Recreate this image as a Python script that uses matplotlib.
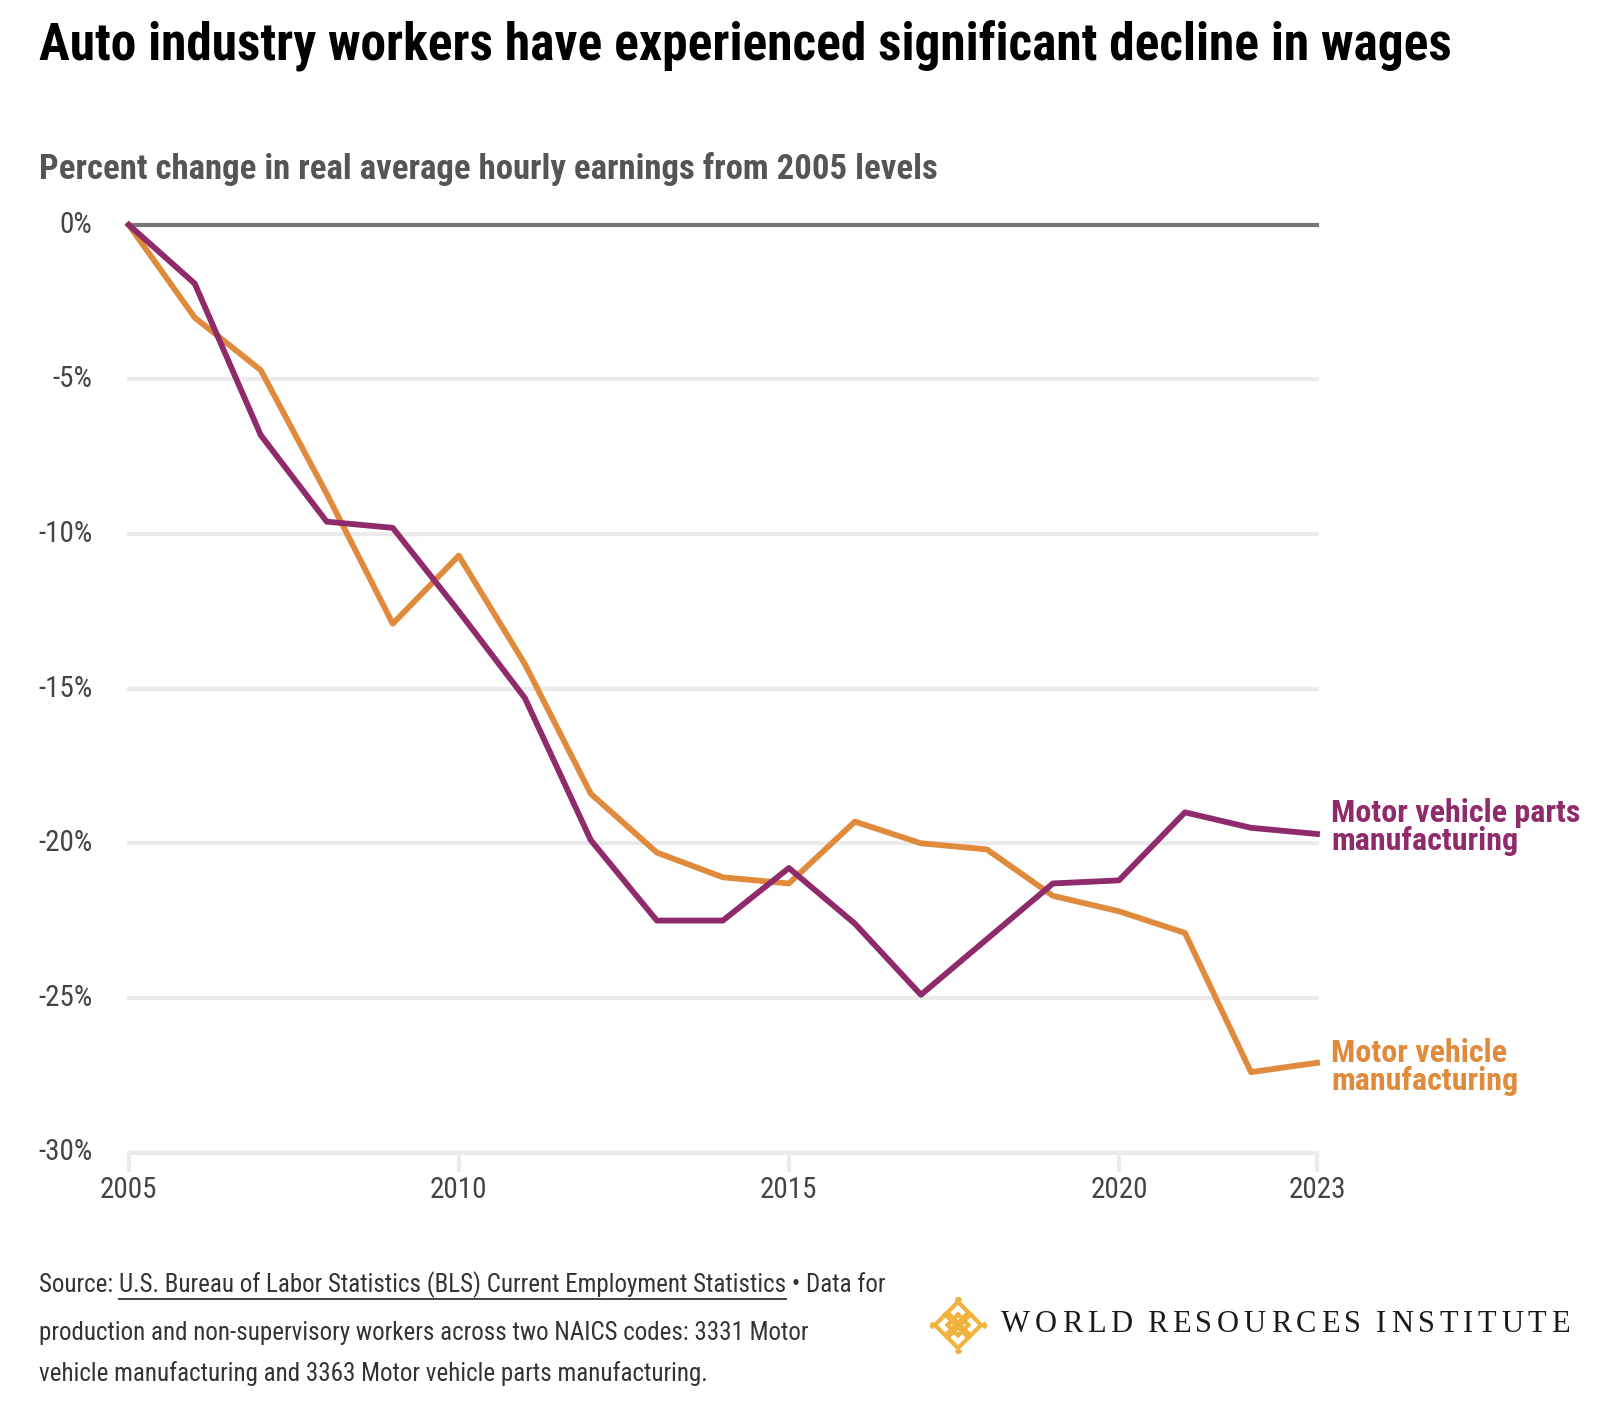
import matplotlib
matplotlib.use("Agg")
import matplotlib.pyplot as plt
from matplotlib import font_manager as fm
from matplotlib.lines import Line2D

# data
years = [2005, 2006, 2007, 2008, 2009, 2010, 2011, 2012, 2013, 2014,
         2015, 2016, 2017, 2018, 2019, 2020, 2021, 2022, 2023]
parts_mfg = [0.0, -1.9, -6.8, -9.6, -9.8, -12.5, -15.3, -19.9, -22.5, -22.5,
             -20.8, -22.6, -24.9, -23.1, -21.3, -21.2, -19.0, -19.5, -19.7]
vehicle_mfg = [0.0, -3.0, -4.7, -8.7, -12.9, -10.7, -14.2, -18.4, -20.3, -21.1,
               -21.3, -19.3, -20.0, -20.2, -21.7, -22.2, -22.9, -27.4, -27.1]
xticks = [2005, 2010, 2015, 2020, 2023]
yticks = [0, -5, -10, -15, -20, -25, -30]

PURPLE = "#8f2a6b"
ORANGE = "#e08a3c"
GRID = "#ebebeb"
W, H = 1602, 1420

names = {f.name for f in fm.fontManager.ttflist}
cond = "DejaVu Sans"
for cand in ["Roboto Condensed", "Liberation Sans Narrow", "Open Sans Condensed"]:
    if cand in names:
        cond = cand
        break
serif = "Liberation Serif" if "Liberation Serif" in names else "DejaVu Serif"
plt.rcParams["font.family"] = [cond, "DejaVu Sans"]
plt.rcParams["font.stretch"] = "condensed"


def px(x, y):
    return x / W, 1 - y / H


fig = plt.figure(figsize=(W / 100, H / 100), dpi=100)
ax = fig.add_axes([128.7 / W, 1 - 1152.5 / H, (1317 - 128.7) / W, (1152.5 - 224.8) / H])

for y in yticks[1:]:
    ax.axhline(y, color=GRID, lw=3, zorder=0, clip_on=False)
ax.axhline(0, color="#777777", lw=3, zorder=1, clip_on=False)
ax.plot(years, vehicle_mfg, color=ORANGE, lw=4.2, zorder=3, clip_on=False)
ax.plot(years, parts_mfg, color=PURPLE, lw=4.2, zorder=4, clip_on=False)

ax.set_xlim(2005, 2023)
ax.set_ylim(-30, 0)
for s in ax.spines.values():
    s.set_visible(False)
ax.set_xticks(xticks)
ax.set_xticklabels([str(x) for x in xticks])
ax.set_yticks(yticks)
ax.set_yticklabels([f"{y}%" for y in yticks])
ax.tick_params(axis="x", length=14, width=3, color=GRID, labelsize=21,
               labelcolor="#444444", pad=3)
ax.tick_params(axis="y", length=0, labelsize=21, labelcolor="#444444", pad=26)
for lab in ax.get_yticklabels():
    lab.set_verticalalignment("center")

# end labels
ax.annotate("Motor vehicle parts\nmanufacturing", xy=(years[-1], parts_mfg[-1]),
            xytext=(10, 5), textcoords="offset points", color=PURPLE,
            fontsize=23, fontweight="bold", va="center", ha="left", linespacing=0.92)
ax.annotate("Motor vehicle\nmanufacturing", xy=(years[-1], vehicle_mfg[-1]),
            xytext=(10, -3), textcoords="offset points", color=ORANGE,
            fontsize=23, fontweight="bold", va="center", ha="left", linespacing=0.92)

# titles
fig.text(*px(39, 46), "Auto industry workers have experienced significant decline in wages",
         fontsize=37, fontweight="bold", color="black", va="center", ha="left")
fig.text(*px(39, 169), "Percent change in real average hourly earnings from 2005 levels",
         fontsize=25, fontweight="bold", color="#555555", va="center", ha="left")

# footer with underlined source link
fig.canvas.draw()
r = fig.canvas.get_renderer()
fs = 18
fc = "#333333"
x0, y0 = px(39, 1285)
t1 = fig.text(x0, y0, "Source: ", fontsize=fs, color=fc, va="center")
e1 = t1.get_window_extent(r)
t2 = fig.text(e1.x1 / W, y0, "U.S. Bureau of Labor Statistics (BLS) Current Employment Statistics",
              fontsize=fs, color=fc, va="center")
e2 = t2.get_window_extent(r)
fig.add_artist(Line2D([e2.x0 / W, e2.x1 / W], [(e2.y0 - 1) / H] * 2, color=fc, lw=1.3,
                      transform=fig.transFigure))
fig.text(e2.x1 / W, y0, " \u2022 Data for", fontsize=fs, color=fc, va="center")
fig.text(*px(39, 1333), "production and non-supervisory workers across two NAICS codes: 3331 Motor",
         fontsize=fs, color=fc, va="center")
fig.text(*px(39, 1374), "vehicle manufacturing and 3363 Motor vehicle parts manufacturing.",
         fontsize=fs, color=fc, va="center")

# WRI logo mark: woven diamond
lx, ly = 958, 1325
lax = fig.add_axes([(lx - 28) / W, 1 - (ly + 28) / H, 56 / W, 56 / H])
lax.set_xlim(-4, 4)
lax.set_ylim(-4, 4)
lax.axis("off")
gold = "#f0b43c"
for cx, cy in [(0, 1.8), (0, -1.8), (1.8, 0), (-1.8, 0), (0, 0)]:
    d = 1.5
    lax.plot([cx, cx + d, cx, cx - d, cx], [cy + d, cy, cy - d, cy, cy + d],
             color=gold, lw=3.0, solid_joinstyle="miter")
for cx, cy in [(0, 3.7), (0, -3.7), (3.7, 0), (-3.7, 0)]:
    lax.plot([cx], [cy], marker="D", ms=3, color=gold)

# WRI wordmark with letter spacing
letters = "WORLD RESOURCES INSTITUTE"
txts = [fig.text(0, 1 - ly / H, ch, fontsize=22, family=serif, color="#1a1a1a",
                 va="center", ha="left") for ch in letters]
widths = [t.get_window_extent(r).width if ch != " " else 0 for t, ch in zip(txts, letters)]
x_start, x_end = 1001, 1570
gap = (x_end - x_start - sum(widths)) / (len(letters) - 1 + 2)
cx = x_start
for t, ch, w in zip(txts, letters, widths):
    t.set_x(cx / W)
    cx += w + (gap * 2 if ch == " " else gap)

fig.savefig("out.png", dpi=100, facecolor="white")
